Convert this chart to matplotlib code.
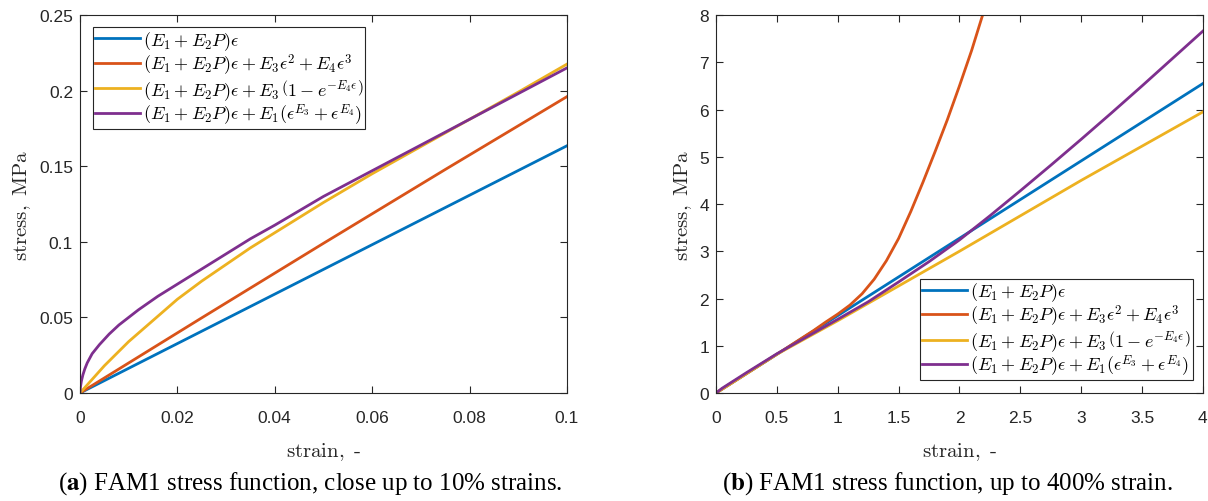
import matplotlib.pyplot as plt
import numpy as np

plt.rcParams['mathtext.fontset'] = 'cm'

# colores MATLAB por defecto
colores = ['#0072BD', '#D95319', '#EDB120', '#7E2F8E']
etiquetas = [r'$(E_1+E_2P)\epsilon$',
             r'$(E_1+E_2P)\epsilon+E_3\epsilon^2+E_4\epsilon^3$',
             r'$(E_1+E_2P)\epsilon+E_3\,\left(1-e^{-E_4\epsilon}\right)$',
             r'$(E_1+E_2P)\epsilon+E_1(\epsilon^{E_3}+\epsilon^{E_4})$']

# panel (a): hasta 10% de deformacion
a_lin_x = [0.0, 0.1]
a_lin_y = [0.0, 0.1635]
a_cub_x = [0.0, 0.025, 0.05, 0.075, 0.1]
a_cub_y = [0.0, 0.0497, 0.0990, 0.1478, 0.196]
a_exp_x = [0.0, 0.0025, 0.005, 0.0075, 0.01, 0.015, 0.02, 0.025, 0.03, 0.035, 0.04, 0.045,
           0.05, 0.06, 0.07, 0.08, 0.09, 0.1]
a_exp_y = [0.0, 0.009, 0.018, 0.026, 0.034, 0.048, 0.062, 0.074, 0.085, 0.096, 0.106, 0.116,
           0.126, 0.145, 0.163, 0.181, 0.199, 0.2175]
a_pot_x = [0.0, 0.0001, 0.0003, 0.0006, 0.001, 0.0015, 0.0025, 0.004, 0.006, 0.008, 0.012,
           0.016, 0.02, 0.025, 0.03, 0.035, 0.04, 0.05, 0.06, 0.07, 0.08, 0.09, 0.1]
a_pot_y = [0.0, 0.004, 0.008, 0.012, 0.016, 0.020, 0.026, 0.032, 0.039, 0.045, 0.055,
           0.064, 0.072, 0.082, 0.092, 0.102, 0.111, 0.130, 0.147, 0.164, 0.181, 0.198, 0.215]

# panel (b): hasta 400%
b_lin_x = [0.0, 4.0]
b_lin_y = [0.0, 6.55]
b_cub_x = [0.0, 0.5, 0.8, 0.9, 1.0, 1.1, 1.2, 1.3, 1.4, 1.5, 1.6, 1.7, 1.8, 1.9, 2.0, 2.1, 2.2]
b_cub_y = [0.0, 0.82, 1.32, 1.50, 1.67, 1.86, 2.10, 2.41, 2.80, 3.27, 3.84, 4.46, 5.11,
           5.78, 6.50, 7.25, 8.08]
b_exp_x = [0.0, 0.5, 1.0, 2.0, 3.0, 4.0]
b_exp_y = [0.0, 0.82, 1.53, 3.0, 4.5, 5.95]
b_pot_x = [0.0, 0.05, 0.25, 0.5, 1.0, 1.25, 1.5, 1.75, 2.0, 2.25, 2.5, 2.75, 3.0, 3.25,
           3.5, 3.75, 4.0]
b_pot_y = [0.0, 0.10, 0.43, 0.83, 1.56, 1.93, 2.35, 2.78, 3.24, 3.75, 4.28, 4.82, 5.37,
           5.93, 6.50, 7.08, 7.66]

gris = '#262626'

fig = plt.figure(figsize=(12.08, 5.02), dpi=100)
ax1 = fig.add_axes([0.0662, 0.2151, 0.4031, 0.753])
ax2 = fig.add_axes([0.5927, 0.2151, 0.4031, 0.753])

def dibujar(ax, series, xlim, ylim, xt, yt, xtl, ytl):
    for (x, y), c, lab in zip(series, colores, etiquetas):
        ax.plot(x, y, color=c, lw=2, label=lab)
    ax.set_xlim(xlim)
    ax.set_ylim(ylim)
    ax.set_xticks(xt)
    ax.set_xticklabels(xtl)
    ax.set_yticks(yt)
    ax.set_yticklabels(ytl)
    ax.tick_params(direction='in', top=True, right=True, length=5, width=0.8,
                   colors=gris, labelsize=12.5)
    ax.tick_params(axis='x', pad=12)
    ax.tick_params(axis='y', pad=5)
    for lbl in ax.get_xticklabels() + ax.get_yticklabels():
        lbl.set_family('Liberation Sans')
    for s in ax.spines.values():
        s.set_color(gris)
        s.set_linewidth(0.8)
    ax.set_xlabel(r'$\mathrm{strain,\ \text{-}}$', fontsize=15, color=gris, labelpad=11)
    ax.set_ylabel(r'$\mathrm{stress,\ MPa}$', fontsize=15, color=gris, labelpad=4)

dibujar(ax1, [(a_lin_x, a_lin_y), (a_cub_x, a_cub_y), (a_exp_x, a_exp_y), (a_pot_x, a_pot_y)],
        (0, 0.1), (0, 0.25), [0, 0.02, 0.04, 0.06, 0.08, 0.1], [0, 0.05, 0.1, 0.15, 0.2, 0.25],
        ['0', '0.02', '0.04', '0.06', '0.08', '0.1'], ['0', '0.05', '0.1', '0.15', '0.2', '0.25'])
dibujar(ax2, [(b_lin_x, b_lin_y), (b_cub_x, b_cub_y), (b_exp_x, b_exp_y), (b_pot_x, b_pot_y)],
        (0, 4), (0, 8), np.arange(0, 4.5, 0.5), range(0, 9),
        ['0', '0.5', '1', '1.5', '2', '2.5', '3', '3.5', '4'], [str(i) for i in range(9)])

leg_kw = dict(fontsize=13, frameon=True, fancybox=False, framealpha=1, edgecolor=gris,
              borderaxespad=0, handlelength=2.5, handletextpad=0.17, labelspacing=0.0,
              borderpad=0.1)
l1 = ax1.legend(loc='upper left', bbox_to_anchor=(0.0267, 0.968), **leg_kw)
l2 = ax2.legend(loc='lower right', bbox_to_anchor=(0.9795, 0.0344), **leg_kw)
for l in (l1, l2):
    l.get_frame().set_linewidth(0.8)

# pies de figura
fig.text(0.2567, 0.036, r'($\mathbf{a}$) FAM1 stress function, close up to 10% strains.',
         ha='center', va='center', fontsize=18, family='Liberation Serif', math_fontfamily='stix')
fig.text(0.784, 0.036, r'($\mathbf{b}$) FAM1 stress function, up to 400% strain.',
         ha='center', va='center', fontsize=18, family='Liberation Serif', math_fontfamily='stix')

fig.savefig('out.png', dpi=100)
